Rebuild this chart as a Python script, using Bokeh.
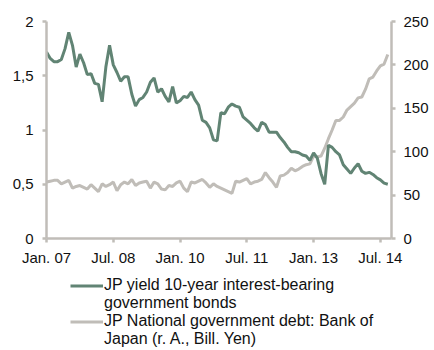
from bokeh.plotting import figure
from bokeh.models import Range1d, LinearAxis, Legend, LegendItem, FixedTicker
from bokeh.layouts import column
from bokeh.embed import file_html
from bokeh.resources import INLINE

months = list(range(93))
x_ticks = [0, 18, 36, 54, 72, 90]
x_tick_labels = ["Jan. 07", "Jul. 08", "Jan. 10", "Jul. 11", "Jan. 13", "Jul. 14"]

yield_10y = [1.72, 1.66, 1.63, 1.63, 1.65, 1.75, 1.90, 1.78, 1.58, 1.70,
             1.62, 1.51, 1.52, 1.43, 1.42, 1.26, 1.58, 1.78, 1.60, 1.53,
             1.45, 1.49, 1.49, 1.33, 1.22, 1.28, 1.30, 1.35, 1.44, 1.48,
             1.35, 1.38, 1.31, 1.26, 1.40, 1.25, 1.27, 1.31, 1.30, 1.35,
             1.28, 1.23, 1.09, 1.07, 1.02, 0.91, 0.90, 1.16, 1.15, 1.21,
             1.24, 1.22, 1.21, 1.12, 1.09, 1.06, 1.02, 0.99, 1.07, 1.05,
             0.98, 0.98, 0.98, 0.93, 0.89, 0.84, 0.80, 0.80, 0.79, 0.77,
             0.76, 0.72, 0.79, 0.74, 0.60, 0.50, 0.86, 0.84, 0.80, 0.77,
             0.68, 0.64, 0.60, 0.65, 0.69, 0.62, 0.60, 0.61, 0.59, 0.56,
             0.54, 0.51, 0.50]

boj_debt = [65, 66, 67, 67, 63, 65, 67, 58, 60, 61,
            59, 57, 62, 58, 54, 63, 60, 62, 65, 55,
            62, 65, 63, 68, 61, 64, 65, 66, 58, 65,
            63, 57, 56, 61, 60, 64, 66, 58, 54, 65,
            64, 66, 68, 64, 59, 63, 60, 58, 56, 54,
            52, 66, 65, 67, 69, 63, 65, 66, 68, 76,
            70, 65, 59, 72, 73, 76, 81, 78, 80, 83,
            85, 86, 95, 94, 95, 104, 115, 125, 136, 136,
            140, 148, 152, 156, 162, 163, 172, 184, 186, 193,
            199, 201, 212]

left_ticks = [0, 0.5, 1, 1.5, 2]
left_labels = ["0", "0,5", "1", "1,5", "2"]
right_ticks = [0, 50, 100, 150, 200, 250]

label_yield = ["JP yield 10-year interest-bearing", "government bonds"]
label_debt = ["JP National government debt: Bank of", "Japan (r. A., Bill. Yen)"]

GREEN = "#618474"
GREY = "#c0bdb8"
AXIS = "#c0bdb8"
FONT = "Liberation Sans"

p = figure(width=432, height=268, output_backend="svg", toolbar_location=None,
           x_range=Range1d(0, 93), y_range=Range1d(0, 2),
           min_border_left=46, min_border_right=41, min_border_top=21,
           min_border_bottom=28)
p.extra_y_ranges = {"debt": Range1d(0, 250)}
p.outline_line_color = None
p.grid.visible = False

r_debt = p.line(months, boj_debt, line_color=GREY, line_width=3, y_range_name="debt")
r_yield = p.line(months, yield_10y, line_color=GREEN, line_width=3)

ax_r = LinearAxis(y_range_name="debt")
p.add_layout(ax_r, "right")

for ax in [p.xaxis[0], p.yaxis[0], ax_r]:
    ax.axis_line_color = AXIS
    ax.axis_line_width = 2.5
    ax.major_tick_line_color = AXIS
    ax.major_tick_line_width = 2.5
    ax.major_tick_in = 0
    ax.major_tick_out = 4
    ax.minor_tick_line_color = None
    ax.major_label_text_font = FONT
    ax.major_label_text_font_size = "15px"
    ax.major_label_text_color = "#111111"

p.xaxis[0].ticker = FixedTicker(ticks=x_ticks)
p.xaxis[0].major_label_overrides = {t: l for t, l in zip(x_ticks, x_tick_labels)}
p.xaxis[0].major_label_standoff = 6
p.yaxis[0].ticker = FixedTicker(ticks=left_ticks)
p.yaxis[0].major_label_overrides = {t: l for t, l in zip(left_ticks, left_labels)}
p.yaxis[0].major_label_standoff = 9
ax_r.ticker = FixedTicker(ticks=right_ticks)
ax_r.major_label_standoff = 8

# legend panel below the chart (its lines reuse the series but lie outside its view)
q = figure(width=432, height=80, output_backend="svg", toolbar_location=None,
           x_range=Range1d(-20, -10), y_range=Range1d(-20, -10),
           min_border_left=0, min_border_right=0, min_border_top=0,
           min_border_bottom=0)
q.axis.visible = False
q.grid.visible = False
q.outline_line_color = None
l_yield = q.line(months, yield_10y, line_color=GREEN, line_width=3)
l_yield2 = q.line(months, yield_10y, line_color=GREEN, line_width=3, line_alpha=0)
l_debt = q.line(months, boj_debt, line_color=GREY, line_width=3)
l_debt2 = q.line(months, boj_debt, line_color=GREY, line_width=3, line_alpha=0)

legend = Legend(items=[LegendItem(label=label_yield[0], renderers=[l_yield]),
                       LegendItem(label=label_yield[1], renderers=[l_yield2]),
                       LegendItem(label=label_debt[0], renderers=[l_debt]),
                       LegendItem(label=label_debt[1], renderers=[l_debt2])],
                location=(24, 0), orientation="vertical",
                border_line_color=None, background_fill_alpha=0,
                label_text_font=FONT, label_text_font_size="16px",
                label_text_color="#111111",
                glyph_width=33, glyph_height=17, label_standoff=1,
                spacing=0, padding=0, margin=0, label_height=17)
q.add_layout(legend, "center")

layout = column(p, q, spacing=0)
open("out.html", "w").write(file_html(layout, INLINE))
